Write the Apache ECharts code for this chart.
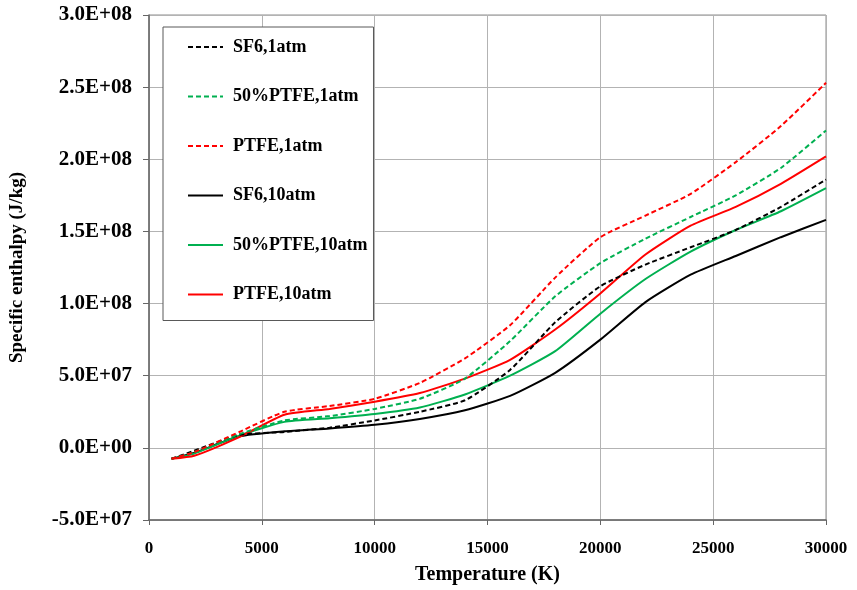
<!DOCTYPE html>
<html>
<head>
<meta charset="utf-8">
<script src="https://cdn.jsdelivr.net/npm/echarts@6/dist/echarts.min.js"></script>
<style>
html,body{margin:0;padding:0;background:#fff;}
#chart{width:857px;height:590px;}
</style>
</head>
<body>
<div id="chart"></div>
<script>
// Temperature (K)
var temperatures = [1000, 2000, 4000, 6000, 8000, 10000, 12000, 14000, 16000, 18000, 20000, 22000, 24000, 26000, 28000, 30000];
// Specific enthalpy (J/kg)
var sf6_1atm      = [-7.5e6, -2.0e6, 9.0e6, 1.1e7, 1.4e7, 1.9e7, 2.5e7, 3.3e7, 5.4e7, 8.7e7, 1.12e8, 1.27e8, 1.39e8, 1.51e8, 1.67e8, 1.86e8];
var ptfe50_1atm   = [-7.5e6, -3.0e6, 9.5e6, 1.9e7, 2.2e7, 2.7e7, 3.4e7, 4.8e7, 7.4e7, 1.05e8, 1.28e8, 1.45e8, 1.60e8, 1.75e8, 1.94e8, 2.20e8];
var ptfe_1atm     = [-7.5e6, -3.0e6, 1.1e7, 2.5e7, 2.9e7, 3.4e7, 4.5e7, 6.2e7, 8.5e7, 1.18e8, 1.46e8, 1.61e8, 1.76e8, 1.98e8, 2.23e8, 2.53e8];
var sf6_10atm     = [-7.5e6, -3.5e6, 8.0e6, 1.15e7, 1.35e7, 1.6e7, 2.0e7, 2.6e7, 3.6e7, 5.2e7, 7.5e7, 1.01e8, 1.20e8, 1.33e8, 1.46e8, 1.58e8];
var ptfe50_10atm  = [-7.5e6, -4.0e6, 8.5e6, 1.8e7, 2.05e7, 2.35e7, 2.8e7, 3.7e7, 5.0e7, 6.7e7, 9.3e7, 1.17e8, 1.36e8, 1.51e8, 1.64e8, 1.80e8];
var ptfe_10atm    = [-7.5e6, -5.5e6, 7.5e6, 2.3e7, 2.7e7, 3.2e7, 3.8e7, 4.8e7, 6.1e7, 8.2e7, 1.07e8, 1.34e8, 1.54e8, 1.67e8, 1.83e8, 2.02e8];

var seriesNames = ['SF6,1atm', '50%PTFE,1atm', 'PTFE,1atm', 'SF6,10atm', '50%PTFE,10atm', 'PTFE,10atm'];
var seriesValues = [sf6_1atm, ptfe50_1atm, ptfe_1atm, sf6_10atm, ptfe50_10atm, ptfe_10atm];
var seriesColors = ['#000000', '#00B050', '#FF0000', '#000000', '#00B050', '#FF0000'];
var seriesDashed = [true, true, true, false, false, false];

function pairs(vals) {
  return temperatures.map(function (t, i) { return [t, vals[i]]; });
}
function sci(v) {
  var s = Number(v).toExponential(1);
  var parts = s.split('e');
  var exp = parseInt(parts[1], 10);
  var sign = exp < 0 ? '-' : '+';
  var e = Math.abs(exp);
  return parts[0] + 'E' + sign + (e < 10 ? '0' + e : '' + e);
}

var FONT = '"Liberation Serif", "Times New Roman", serif';

var series = seriesNames.map(function (name, i) {
  return {
    name: name,
    type: 'line',
    data: pairs(seriesValues[i]),
    symbol: 'none',
    smooth: 0.18,
    lineStyle: {
      color: seriesColors[i],
      width: 2,
      type: seriesDashed[i] ? [5, 3] : 'solid'
    },
    itemStyle: { color: seriesColors[i] },
    z: seriesDashed[i] ? 3 : 2
  };
});

var chart = echarts.init(document.getElementById('chart'), null, { renderer: 'canvas' });
chart.setOption({
  backgroundColor: '#ffffff',
  animation: false,
  grid: {
    left: 145, right: 31, top: 15, bottom: 69,
    show: true, borderColor: '#8c8c8c', borderWidth: 1
  },
  legend: {
    orient: 'vertical',
    left: 163,
    top: 27,
    data: seriesNames,
    backgroundColor: '#ffffff',
    borderColor: '#595959',
    borderWidth: 1,
    padding: [11, 6, 17, 24],
    itemWidth: 35,
    itemHeight: 17,
    itemGap: 31.5,
    itemStyle: { opacity: 0 },
    textStyle: {
      fontFamily: FONT,
      fontWeight: 'bold',
      fontSize: 18,
      color: '#000',
      padding: [0, 0, 0, 5]
    }
  },
  xAxis: {
    type: 'value',
    min: 0,
    max: 30000,
    interval: 5000,
    name: 'Temperature (K)',
    nameLocation: 'middle',
    nameGap: 45,
    nameTextStyle: { fontFamily: FONT, fontWeight: 'bold', fontSize: 20, color: '#000' },
    axisLine: { show: true, onZero: false, lineStyle: { color: '#666', width: 1.5 } },
    axisTick: { show: true, length: 5, lineStyle: { color: '#666' } },
    axisLabel: { margin: 20, fontFamily: FONT, fontWeight: 'bold', fontSize: 17, color: '#000',
      formatter: function (v) { return String(v); } },
    splitLine: { show: true, lineStyle: { color: '#b3b3b3', width: 1 } }
  },
  yAxis: {
    type: 'value',
    min: -5e7,
    max: 3e8,
    interval: 5e7,
    name: 'Specific enthalpy (J/kg)',
    nameLocation: 'middle',
    nameGap: 122,
    nameTextStyle: { fontFamily: FONT, fontWeight: 'bold', fontSize: 19, color: '#000' },
    axisLine: { show: true, onZero: false, lineStyle: { color: '#666', width: 1.5 } },
    axisTick: { show: true, length: 6, lineStyle: { color: '#666' } },
    axisLabel: { margin: 17, fontFamily: FONT, fontWeight: 'bold', fontSize: 21, color: '#000', formatter: sci },
    splitLine: { show: true, lineStyle: { color: '#b3b3b3', width: 1 } }
  },
  series: series
});
</script>
</body>
</html>
